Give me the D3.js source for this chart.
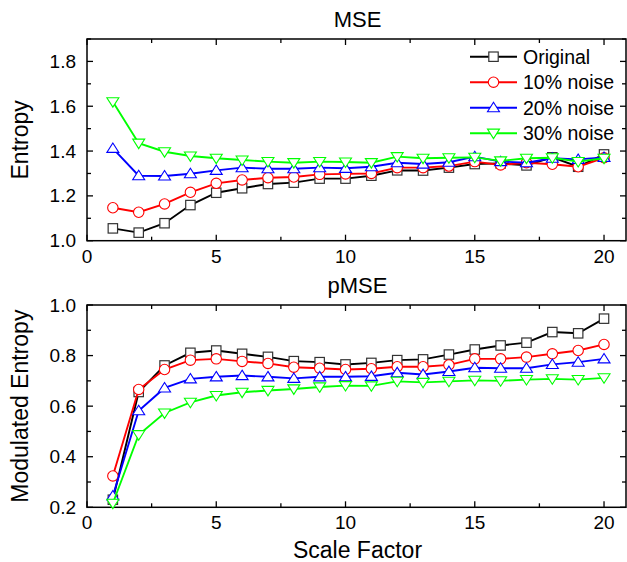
<!DOCTYPE html>
<html><head><meta charset="utf-8">
<script src="https://cdn.jsdelivr.net/npm/d3@7"></script>
<style>body{margin:0;background:#fff}svg{display:block}text{font-family:"Liberation Sans",Arial,sans-serif;fill:#000}</style>
</head><body><svg id="c" width="627" height="562"></svg>
<script>
const scales = [1,2,3,4,5,6,7,8,9,10,11,12,13,14,15,16,17,18,19,20];
const seriesNames = ["Original","10% noise","20% noise","30% noise"];
const seriesColors = ["#000000","#ff0000","#0000ff","#00ff00"];
const seriesMarkers = ["square","circle","up","down"];
const mseOriginal = [1.055,1.036,1.078,1.159,1.214,1.234,1.253,1.259,1.277,1.277,1.290,1.314,1.313,1.326,1.342,1.345,1.336,1.372,1.330,1.385];
const mse10 = [1.147,1.127,1.164,1.216,1.256,1.271,1.281,1.284,1.296,1.298,1.300,1.326,1.326,1.333,1.353,1.338,1.348,1.341,1.330,1.370];
const mse20 = [1.412,1.290,1.289,1.299,1.314,1.326,1.321,1.321,1.326,1.323,1.330,1.348,1.342,1.350,1.375,1.353,1.348,1.368,1.363,1.372];
const mse30 = [1.620,1.435,1.397,1.378,1.368,1.360,1.353,1.348,1.353,1.351,1.348,1.375,1.368,1.370,1.372,1.356,1.368,1.370,1.353,1.368];
const pmseOriginal = [0.230,0.656,0.761,0.811,0.820,0.807,0.795,0.778,0.774,0.765,0.771,0.782,0.785,0.804,0.824,0.840,0.851,0.893,0.888,0.946];
const pmse10 = [0.324,0.666,0.745,0.782,0.787,0.777,0.769,0.754,0.750,0.745,0.748,0.756,0.756,0.763,0.787,0.787,0.794,0.807,0.820,0.844];
const pmse20 = [0.245,0.582,0.672,0.708,0.716,0.721,0.716,0.710,0.716,0.716,0.718,0.732,0.725,0.737,0.752,0.750,0.750,0.765,0.774,0.787];
const pmse30 = [0.216,0.487,0.573,0.615,0.642,0.655,0.662,0.668,0.676,0.681,0.680,0.698,0.694,0.698,0.702,0.700,0.705,0.708,0.705,0.712];
const xTicks = [0,5,10,15,20];
const mseTicks = [1.0,1.2,1.4,1.6,1.8];
const pmseTicks = [0.2,0.4,0.6,0.8,1.0];

const svg = d3.select("#c");
const L = 87, R = 626;
const x = d3.scaleLinear().domain([0,20.85]).range([L,R]);

function marker(g, type, cx, cy, color){
  if(type==="square"){
    g.append("rect").attr("x",cx-4.7).attr("y",cy-4.7).attr("width",9.4).attr("height",9.4)
     .attr("fill","#fff").attr("stroke","#333").attr("stroke-width",1.2);
  } else if(type==="circle"){
    g.append("circle").attr("cx",cx).attr("cy",cy).attr("r",5.2)
     .attr("fill","#fff").attr("stroke",color).attr("stroke-width",1.1);
  } else {
    const s = 6, h = 5.4;
    const pts = type==="up" ? [[cx,cy-h],[cx+s,cy+h*0.75],[cx-s,cy+h*0.75]]
                            : [[cx,cy+h],[cx+s,cy-h*0.75],[cx-s,cy-h*0.75]];
    g.append("path").attr("d","M"+pts.map(p=>p.join(",")).join("L")+"Z")
     .attr("fill","#fff").attr("stroke",color).attr("stroke-width",1.1);
  }
}

function panel(top, bottom, yDomain, yTicks, data, title, ytitle, showLegend){
  const y = d3.scaleLinear().domain(yDomain).range([bottom,top]);
  const g = svg.append("g");
  g.append("rect").attr("x",L).attr("y",top).attr("width",R-L).attr("height",bottom-top)
   .attr("fill","none").attr("stroke","#000").attr("stroke-width",1.5);
  const xMinor = d3.range(0,20.1,2.5);
  xMinor.forEach(v=>{
    const major = Math.abs(v%5)<1e-6;
    const len = major?6:4;
    g.append("line").attr("x1",x(v)).attr("x2",x(v)).attr("y1",bottom).attr("y2",bottom-len).attr("stroke","#000").attr("stroke-width",1.3);
    g.append("line").attr("x1",x(v)).attr("x2",x(v)).attr("y1",top).attr("y2",top+len).attr("stroke","#000").attr("stroke-width",1.3);
  });
  const yMinor = d3.range(yDomain[0], yDomain[1]+1e-6, 0.1);
  yMinor.forEach((v,i)=>{
    const major = i%2===0;
    const len = major?6:4;
    g.append("line").attr("x1",L).attr("x2",L+len).attr("y1",y(v)).attr("y2",y(v)).attr("stroke","#000").attr("stroke-width",1.3);
    g.append("line").attr("x1",R).attr("x2",R-len).attr("y1",y(v)).attr("y2",y(v)).attr("stroke","#000").attr("stroke-width",1.3);
  });
  xTicks.forEach(v=>{
    g.append("text").attr("x",x(v)).attr("y",bottom+22).attr("text-anchor","middle").attr("font-size",19).text(v);
  });
  yTicks.forEach(v=>{
    g.append("text").attr("x",L-11).attr("y",y(v)+6.5).attr("text-anchor","end").attr("font-size",19).text(d3.format(".1f")(v));
  });
  g.append("text").attr("x",(L+R)/2+1).attr("y",top-12).attr("text-anchor","middle").attr("font-size",22).text(title);
  g.append("text").attr("transform",`translate(28,${(top+bottom)/2}) rotate(-90)`).attr("text-anchor","middle").attr("font-size",23).text(ytitle);
  const line = d3.line().x((d,i)=>x(scales[i])).y(d=>y(d));
  data.forEach((vals,k)=>{
    const sg = g.append("g");
    sg.append("path").attr("d",line(vals)).attr("fill","none").attr("stroke",seriesColors[k]).attr("stroke-width",1.9);
    vals.forEach((v,i)=>marker(sg, seriesMarkers[k], x(scales[i]), y(v), seriesColors[k]));
  });
  if(showLegend){
    const ly = [56.7,82.2,107.7,133.2];
    seriesNames.forEach((n,k)=>{
      const lg = g.append("g");
      lg.append("line").attr("x1",470).attr("x2",517).attr("y1",ly[k]).attr("y2",ly[k]).attr("stroke",seriesColors[k]).attr("stroke-width",1.9);
      marker(lg, seriesMarkers[k], 493.5, ly[k], seriesColors[k]);
      lg.append("text").attr("x",523).attr("y",ly[k]+7).attr("font-size",19.5).text(n);
    });
  }
}

panel(39, 240.7, [1.0,1.9], mseTicks, [mseOriginal,mse10,mse20,mse30], "MSE", "Entropy", true);
panel(305, 507.3, [0.2,1.0], pmseTicks, [pmseOriginal,pmse10,pmse20,pmse30], "pMSE", "Modulated Entropy", false);
svg.append("text").attr("x",(L+R)/2+1).attr("y",558).attr("text-anchor","middle").attr("font-size",23).text("Scale Factor");
</script></body></html>
